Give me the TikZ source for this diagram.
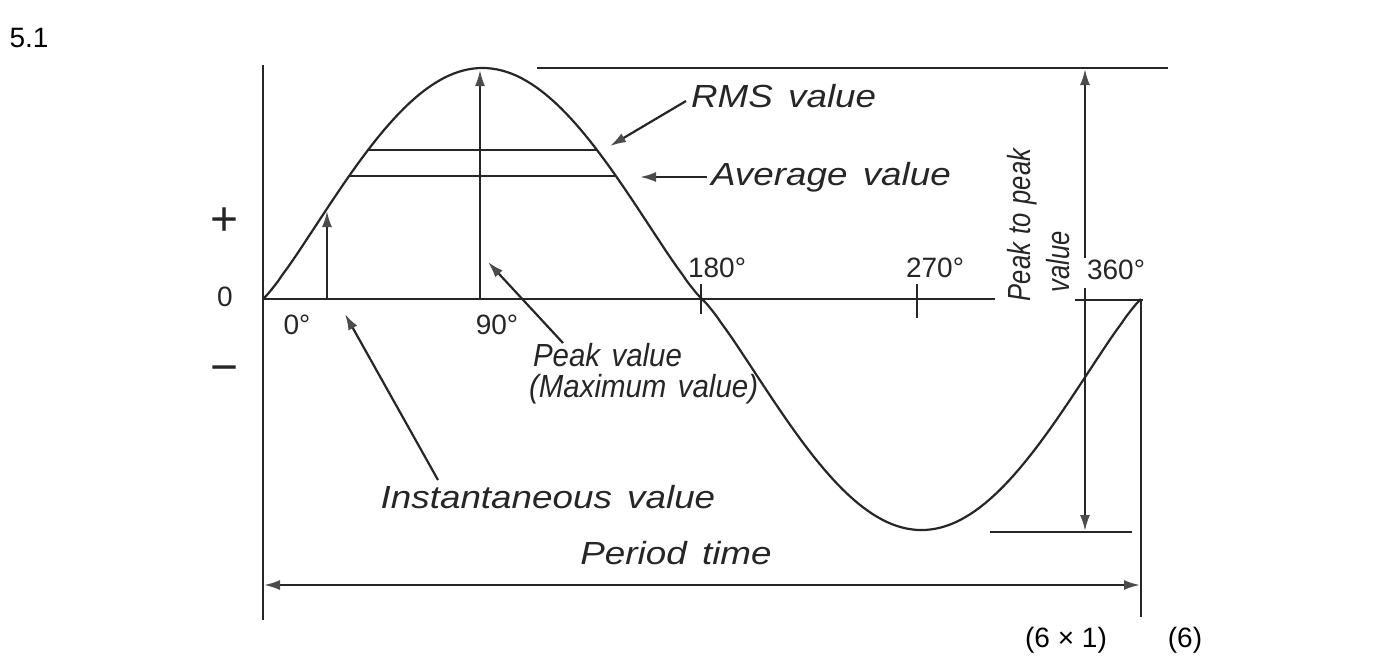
\documentclass[tikz,border=0pt]{standalone}
\usepackage{fontspec}
\setmainfont{Liberation Sans}
\newfontfamily\labfont[FakeStretch=1.15,WordSpace=1.5]{Liberation Sans}
\newfontfamily\pkfont[FakeStretch=0.92,WordSpace=1.4]{Liberation Sans}
\newfontfamily\rotfont[FakeStretch=0.8,WordSpace=1.2]{Liberation Sans}
\usetikzlibrary{arrows.meta}
\definecolor{ink}{gray}{0.15}
\definecolor{tipc}{gray}{0.30}
\begin{document}
\begin{tikzpicture}[x=0.5pt,y=-0.5pt,color=ink,line width=1.1pt,
  lab/.style={font=\labfont\itshape\fontsize{16}{18}\selectfont,inner sep=0pt},
  pklab/.style={font=\pkfont\itshape\fontsize{16}{18}\selectfont,inner sep=0pt},
  rotlab/.style={font=\rotfont\itshape\fontsize{16}{18}\selectfont,inner sep=0pt,rotate=90},
  deg/.style={font=\fontsize{14}{16}\selectfont,inner sep=0pt},
  big/.style={font=\fontsize{24}{26}\selectfont,inner sep=0pt},
  doc/.style={font=\fontsize{14}{16}\selectfont,inner sep=0pt,text=black},
  tip/.style={-{Latex[length=8pt,width=5pt,color=tipc]}},
  both/.style={{Latex[length=8pt,width=5pt,color=tipc]}-{Latex[length=8pt,width=5pt,color=tipc]}},
  wave/.style={line width=1.1pt}]
\useasboundingbox (0,0) rectangle (1377,666);

% axes
\coordinate (ytop) at (263,65);
\coordinate (ybot) at (263,620);
\coordinate (o) at (263,299);
\coordinate (xend) at (995,299);
\draw (ytop) -- (ybot);
\draw (o) -- (xend);
\coordinate (xr1) at (1075,300);
\coordinate (xr2) at (1143,300);
\draw (xr1) -- (xr2);
\coordinate (rtop) at (1141,300);
\coordinate (rbot) at (1141,617);
\draw (rtop) -- (rbot);
% ticks
\coordinate (t180a) at (701,284); \coordinate (t180b) at (701,314);
\coordinate (t270a) at (917,284); \coordinate (t270b) at (917,318);
\draw (t180a) -- (t180b);
\draw (t270a) -- (t270b);

% sine wave
\draw[wave] plot[domain=0:180,samples=91] ({263+2.43889*\x},{299-231*pow(abs(sin(\x))+0.0001,1.15)})
  -- plot[domain=180:360,samples=91] ({263+2.43889*\x},{299+231*pow(abs(sin(\x))+0.0001,1.15)});

% peak and trough lines
\coordinate (topl) at (537,68); \coordinate (topr) at (1168,68);
\coordinate (botl) at (990,532); \coordinate (botr) at (1132,532);
\draw (topl) -- (topr);
\draw (botl) -- (botr);

% peak to peak arrow
\coordinate (ppa) at (1085,258); \coordinate (ppt) at (1085,69);
\coordinate (ppb) at (1085,288); \coordinate (ppd) at (1085,531);
\draw[tip] (ppa) -- (ppt);
\draw[tip] (ppb) -- (ppd);

% period time arrow
\coordinate (pl) at (264,585); \coordinate (pr) at (1140,585);
\draw[both] (pl) -- (pr);

% instantaneous and peak vertical arrows
\coordinate (ia) at (327,299); \coordinate (ib) at (327,211);
\draw[tip] (ia) -- (ib);
\coordinate (pa) at (480,299); \coordinate (pb) at (480,70);
\draw[tip] (pa) -- (pb);

% RMS and average lines
\coordinate (rmsl) at (368,150); \coordinate (rmsr) at (597,150);
\coordinate (avl) at (349,176); \coordinate (avr) at (616,176);
\draw (rmsl) -- (rmsr);
\draw (avl) -- (avr);

% labels
\node[lab,anchor=west] (rms) at (690,96) {RMS value};
\node[lab,anchor=west] (avg) at (710,177) {Average value};
\node[pklab,anchor=west] (pk) at (532,355) {Peak value};
\node[pklab,anchor=west] (mx) at (528,389) {(Maximum value)};
\node[lab] (inst) at (548,497) {Instantaneous value};
\node[lab] (per) at (676,553) {Period time};
\node[rotlab] (p2p) at (1022,225) {Peak to peak};
\node[rotlab] (val) at (1058,262) {value};

\node[deg] (d0) at (297,325) {0°};
\node[deg] (d90) at (497,325) {90°};
\node[deg] (d180) at (717,268) {180°};
\node[deg] (d270) at (935,268) {270°};
\node[deg] (d360) at (1116,270) {360°};
\node[deg] (zero) at (225,297) {0};
\node[big] (plus) at (225,222) {+};
\node[big] (minus) at (225,375) {−};

\node[doc] (num) at (29,38) {5.1};
\node[doc] (marks) at (1066,640) {(6 × 1)};
\node[doc] (tot) at (1185,640) {(6)};

% pointers
\coordinate (rmsp1) at (686,101); \coordinate (rmsp2) at (610,146);
\draw[tip] (rmsp1) -- (rmsp2);
\coordinate (avp1) at (707,177); \coordinate (avp2) at (640,177);
\draw[tip] (avp1) -- (avp2);
\coordinate (pkp1) at (563,343); \coordinate (pkp2) at (488,262);
\draw[tip] (pkp1) -- (pkp2);
\coordinate (inp1) at (438,480); \coordinate (inp2) at (345,314);
\draw[tip] (inp1) -- (inp2);
\end{tikzpicture}
\end{document}
